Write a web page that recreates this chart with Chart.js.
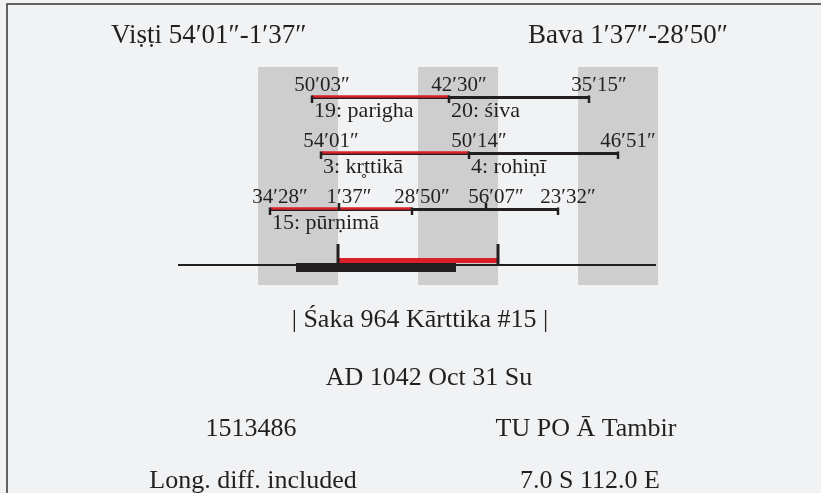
<!DOCTYPE html>
<html>
<head>
<meta charset="utf-8">
<script src="https://cdn.jsdelivr.net/npm/chart.js@4"></script>
<style>
  html, body { margin: 0; padding: 0; background: #f1f2f4; }
  canvas { display: block; }
</style>
</head>
<body>
<canvas id="chart" width="821" height="493"></canvas>
<script>
// time axis is in hours, 0..72 (three days shown)
const nightStart = [12, 36, 60];
const nightEnd = [24, 48, 72];

// row 1: yoga
const yogaTimes = [20.1, 40.65, 61.65];
const yogaLabels = ['50′03″', '42′30″', '35′15″'];
const yogaNames = ['19: parigha', '20: śiva'];

// row 2: nakshatra
const nakTimes = [21.45, 43.65, 66.0];
const nakLabels = ['54′01″', '50′14″', '46′51″'];
const nakNames = ['3: kr̥ttikā', '4: rohiṇī'];

// row 3: tithi + karana
const tithiTimes = [13.8, 35.1, 57.0];
const tithiLabels = ['34′28″', '28′50″', '23′32″'];
const tithiNames = ['15: pūrṇimā'];
const karanaTimes = [24.15, 46.2];
const karanaLabels = ['1′37″', '56′07″'];

// row 4: day line
const lineSpan = [0, 71.7];
const sunrise = [24, 48];
const moonSpan = [17.7, 41.7];
const daySpan = [24, 48];

// texts
const headLeft = 'Viṣṭi 54′01″-1′37″';
const headRight = 'Bava 1′37″-28′50″';
const sakaDate = '| Śaka 964 Kārttika #15 |';
const adDate = 'AD 1042 Oct 31 Su';
const dayNumber = '1513486';
const sourceText = 'TU PO Ā Tambir';
const noteText = 'Long. diff. included';
const placeText = '7.0 S 112.0 E';

const INK = '#231f20';
const RED = '#d9202a';
const BAND = '#cdcecd';
const FONT = '"Liberation Serif", "DejaVu Serif", serif';

function seg(a, b, row) {
  return [{ x: a, y: row }, { x: b, y: row }];
}

function lineSet(data, color, width, yOffset) {
  return {
    type: 'line',
    data: data,
    borderColor: color,
    borderWidth: width,
    borderCapStyle: 'butt',
    pointRadius: 0,
    fill: false,
    yOffset: yOffset || 0
  };
}

const rows = [
  { y: 1, times: yogaTimes, labels: yogaLabels, names: yogaNames },
  { y: 2, times: nakTimes, labels: nakLabels, names: nakNames },
  { y: 3, times: tithiTimes, labels: tithiLabels, names: tithiNames }
];

const datasets = [];
rows.forEach(r => {
  datasets.push(lineSet(seg(r.times[0], r.times[r.times.length - 1], r.y), INK, 3, 0.5));
  datasets.push(lineSet(seg(r.times[0], r.times[1], r.y), RED, 2.5, -0.5));
});
datasets.push(lineSet(seg(lineSpan[0], lineSpan[1], 4), INK, 2, 0));
datasets.push(lineSet(seg(moonSpan[0], moonSpan[1], 4), INK, 9, 2.5));
datasets.push(lineSet(seg(daySpan[0], daySpan[1], 4), RED, 5, -4.5));
// later datasets go on top
datasets.forEach((d, i) => { d.order = 100 - i; });

const panchangaPlugin = {
  id: 'panchanga',
  beforeDatasetsDraw(chart) {
    const { ctx, chartArea, scales } = chart;
    ctx.save();
    ctx.fillStyle = BAND;
    nightStart.forEach((s, i) => {
      const x1 = scales.x.getPixelForValue(s);
      const x2 = scales.x.getPixelForValue(nightEnd[i]);
      ctx.fillRect(x1, chartArea.top, x2 - x1, chartArea.bottom - chartArea.top);
    });
    ctx.restore();
  },
  beforeDatasetDraw(chart, args) {
    const off = chart.data.datasets[args.index].yOffset || 0;
    chart.ctx.save();
    chart.ctx.translate(0, off);
  },
  afterDatasetDraw(chart) {
    chart.ctx.restore();
  },
  afterDatasetsDraw(chart) {
    const { ctx, scales } = chart;
    const xs = scales.x, ys = scales.y;
    ctx.save();
    ctx.strokeStyle = INK;
    ctx.fillStyle = INK;
    ctx.lineWidth = 2.5;

    function tick(t, row, up, len) {
      const x = Math.round(xs.getPixelForValue(t));
      const y = ys.getPixelForValue(row);
      ctx.beginPath();
      if (up) { ctx.moveTo(x, y + 1); ctx.lineTo(x, y - len); }
      else { ctx.moveTo(x, y - 1.5); ctx.lineTo(x, y + len); }
      ctx.stroke();
    }

    rows.forEach(r => {
      const y = ys.getPixelForValue(r.y);
      ctx.font = '21px ' + FONT;
      r.times.forEach((t, i) => {
        tick(t, r.y, false, 6);
        ctx.textAlign = 'center';
        ctx.fillText(r.labels[i], xs.getPixelForValue(t) + 10, y - 6);
      });
      ctx.font = '22px ' + FONT;
      ctx.textAlign = 'left';
      r.names.forEach((n, i) => {
        ctx.fillText(n, xs.getPixelForValue(r.times[i]) + 2, y + 20);
      });
    });
    ctx.font = '21px ' + FONT;
    karanaTimes.forEach((t, i) => {
      tick(t, 3, true, 6);
      ctx.textAlign = 'center';
      ctx.fillText(karanaLabels[i], xs.getPixelForValue(t) + 10, ys.getPixelForValue(3) - 6);
    });
    ctx.lineWidth = 3;
    sunrise.forEach(t => tick(t, 4, true, 21));
    ctx.restore();
  },
  afterDraw(chart) {
    const ctx = chart.ctx;
    ctx.save();
    // frame
    ctx.strokeStyle = '#333333';
    ctx.lineWidth = 1.5;
    ctx.beginPath();
    ctx.moveTo(7, 493);
    ctx.lineTo(7, 4);
    ctx.lineTo(821, 4);
    ctx.stroke();

    ctx.fillStyle = INK;
    ctx.font = '27px ' + FONT;
    ctx.textAlign = 'left';
    ctx.fillText(headLeft, 111, 43);
    ctx.fillText(headRight, 528, 43);
    ctx.font = '26px ' + FONT;
    ctx.textAlign = 'center';
    ctx.fillText(sakaDate, 420, 327);
    ctx.fillText(adDate, 429, 385);
    ctx.fillText(dayNumber, 251, 436);
    ctx.fillText(sourceText, 586, 436);
    ctx.fillText(noteText, 253, 488);
    ctx.fillText(placeText, 590, 488);
    ctx.restore();
  }
};

new Chart(document.getElementById('chart'), {
  type: 'line',
  data: { datasets: datasets },
  options: {
    responsive: false,
    animation: false,
    devicePixelRatio: 1,
    layout: { padding: { left: 178, right: 163, top: 67, bottom: 208 } },
    plugins: { legend: { display: false }, tooltip: { enabled: false } },
    scales: {
      x: { type: 'linear', min: 0, max: 72, display: false },
      y: { type: 'linear', min: 0.4643, max: 4.357, reverse: true, display: false }
    }
  },
  plugins: [panchangaPlugin]
});
</script>
</body>
</html>
